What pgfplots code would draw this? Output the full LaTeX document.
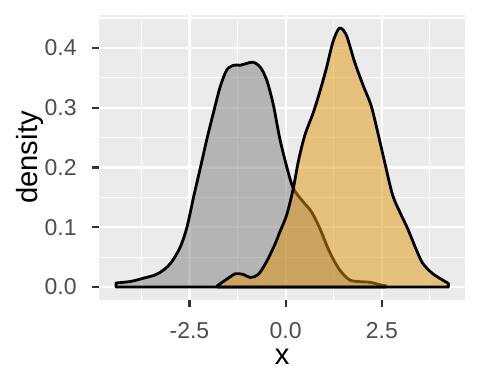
\documentclass[border=0pt]{standalone}
\usepackage{fontspec}
\setmainfont{Liberation Sans}
\usepackage{pgfplots}
\pgfplotsset{compat=1.18}
\definecolor{ggbg}{HTML}{EBEBEB}
\definecolor{ggtick}{HTML}{333333}
\definecolor{ggtext}{HTML}{4D4D4D}
\definecolor{greyfill}{HTML}{7F7F7F}
\definecolor{orangefill}{HTML}{E0960A}
\begin{document}
\begin{tikzpicture}
\begin{axis}[
  scale only axis,
  width=182.85pt, height=142.5pt,
  xmin=-4.842, xmax=4.662,
  ymin=-0.0217, ymax=0.455,
  axis background/.style={fill=ggbg},
  axis line style={draw=none},
  xtick={-2.5,0,2.5}, xticklabels={-2.5,0.0,2.5},
  ytick={0,0.1,0.2,0.3,0.4}, yticklabels={0.0,0.1,0.2,0.3,0.4},
  minor xtick={-3.75,-1.25,1.25,3.75},
  minor ytick={0.05,0.15,0.25,0.35,0.45},
  grid=both,
  major grid style={white, line width=1.1pt},
  minor grid style={white, line width=0.55pt},
  tick pos=left,
  tick align=outside,
  major tick length=3.5pt,
  minor tick length=0pt,
  tick style={ggtick, line width=1.1pt},
  xticklabel style={font=\fontsize{11.5}{13}\selectfont, text=ggtext, anchor=base, inner sep=0pt, yshift=-15.85pt},
  yticklabel style={font=\fontsize{11.5}{13}\selectfont, text=ggtext, anchor=east, inner sep=0pt, xshift=-7.65pt},
  xlabel={x}, ylabel={density},
  xlabel style={font=\fontsize{14.6}{17}\selectfont, at={(axis description cs:0.5,-0.2256)}, anchor=base, inner sep=0pt},
  ylabel style={font=\fontsize{14.6}{17}\selectfont, at={(axis description cs:-0.1695,0.5)}, anchor=base, rotate=0, inner sep=0pt},
]
\addplot[smooth, fill=greyfill, fill opacity=0.5, draw=black, line width=1.4pt, line join=round] coordinates {
(-4.41,0.0067) (-4.02,0.0094) (-3.68,0.015) (-3.38,0.0205) (-3.16,0.029)
(-2.95,0.043) (-2.73,0.068) (-2.56,0.101) (-2.39,0.151) (-2.21,0.201)
(-2.04,0.249) (-1.87,0.293) (-1.70,0.335) (-1.53,0.363) (-1.35,0.371)
(-1.18,0.371) (-1.01,0.374) (-0.84,0.376) (-0.66,0.368) (-0.49,0.346)
(-0.32,0.305) (-0.15,0.248) (0.03,0.201) (0.20,0.165) (0.45,0.143)
(0.67,0.126) (0.89,0.098) (1.14,0.059) (1.40,0.029) (1.66,0.012)
(1.92,0.009) (2.18,0.008) (2.44,0.004) (2.61,0.002)
} \closedcycle;
\addplot[smooth, fill=orangefill, fill opacity=0.5, draw=black, line width=1.4pt, line join=round] coordinates {
(-1.78,0.002) (-1.53,0.013) (-1.31,0.022) (-1.10,0.021) (-0.92,0.016)
(-0.71,0.021) (-0.49,0.043) (-0.28,0.071) (-0.15,0.092) (0.03,0.121)
(0.20,0.165) (0.33,0.210) (0.50,0.254) (0.71,0.290) (0.89,0.327)
(1.06,0.366) (1.23,0.410) (1.40,0.433) (1.58,0.421) (1.79,0.377)
(2.01,0.338) (2.22,0.304) (2.39,0.260) (2.57,0.210) (2.78,0.154)
(3.00,0.121) (3.17,0.098) (3.38,0.065) (3.56,0.040) (3.81,0.023)
(4.07,0.012) (4.23,0.006)
} \closedcycle;
\end{axis}
\path ([shift={(-49.65pt,-42pt)}]current axis.south west) rectangle ([shift={(7.5pt,7.5pt)}]current axis.north east);
\end{tikzpicture}
\end{document}
